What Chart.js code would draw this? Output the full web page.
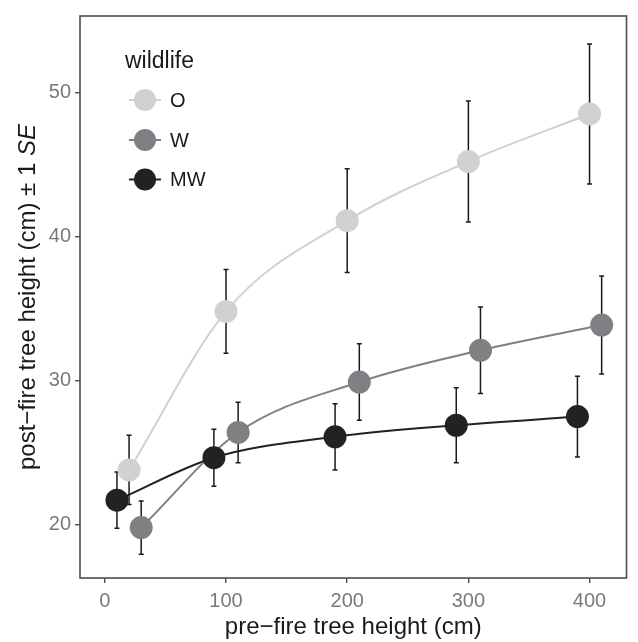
<!DOCTYPE html>
<html>
<head>
<meta charset="utf-8">
<script src="https://cdn.jsdelivr.net/npm/chart.js@4"></script>
<style>
html,body{margin:0;padding:0;background:#fff;}
#wrap{width:638px;height:642px;position:relative;}
</style>
</head>
<body>
<div id="wrap"><canvas id="c" width="638" height="642"></canvas></div>
<script>
// ---- data ----
const groups = ["O", "W", "MW"];
const xO  = [20, 100, 200, 300, 400];
const xW  = [30, 110, 210, 310, 410];
const xMW = [10, 90, 190, 290, 390];
const yO  = [23.8, 34.8, 41.1, 45.2, 48.5];
const seO = [2.4, 2.9, 3.6, 4.2, 4.85];
const yW  = [19.8, 26.4, 29.9, 32.1, 33.85];
const seW = [1.85, 2.1, 2.65, 3.0, 3.4];
const yMW = [21.7, 24.65, 26.1, 26.9, 27.5];
const seMW= [1.95, 1.98, 2.3, 2.6, 2.8];
const xTicks = [0, 100, 200, 300, 400];
const yTicks = [20, 30, 40, 50];

const colO = "#d1d1d3", colW = "#7f7f84", colMW = "#222222";
const FONT = "'Liberation Sans', Arial, Helvetica, sans-serif";

function pts(xs, ys, se){ return xs.map((x,i)=>({x:x, y:ys[i], se:se[i]})); }

const series = [
  {label:"O",  color:colO,  data:pts(xO,yO,seO)},
  {label:"W",  color:colW,  data:pts(xW,yW,seW)},
  {label:"MW", color:colMW, data:pts(xMW,yMW,seMW)}
];

const datasets = [];
series.forEach(s=>{
  datasets.push({type:'line', label:s.label+"_line", data:s.data, borderColor:s.color, borderWidth:2,
    pointRadius:0, cubicInterpolationMode:'monotone', fill:false, order:10});
});
series.forEach(s=>{
  datasets.push({type:'scatter', label:s.label, data:s.data, backgroundColor:s.color, borderColor:s.color,
    borderWidth:0, pointRadius:11.5, showLine:false, order:1});
});

const errorBars = {
  id:'errorBars',
  beforeDatasetsDraw(chart){
    const ctx = chart.ctx, xs = chart.scales.x, ys = chart.scales.y;
    ctx.save();
    ctx.strokeStyle = "#1a1a1a"; ctx.lineWidth = 1.5;
    series.forEach(s=>{
      s.data.forEach(p=>{
        const px = xs.getPixelForValue(p.x);
        const t = ys.getPixelForValue(p.y + p.se);
        const b = ys.getPixelForValue(p.y - p.se);
        ctx.beginPath();
        ctx.moveTo(px, t); ctx.lineTo(px, b);
        ctx.moveTo(px-2.5, t); ctx.lineTo(px+2.5, t);
        ctx.moveTo(px-2.5, b); ctx.lineTo(px+2.5, b);
        ctx.stroke();
      });
    });
    ctx.restore();
  }
};

const decor = {
  id:'decor',
  afterDraw(chart){
    const ctx = chart.ctx, a = chart.chartArea;
    ctx.save();
    // panel box
    ctx.strokeStyle = "#4d4d4d"; ctx.lineWidth = 1.6;
    ctx.strokeRect(a.left, a.top, a.right - a.left, a.bottom - a.top);
    // x title
    ctx.fillStyle = "#1a1a1a";
    ctx.font = "24px " + FONT;
    ctx.textAlign = "center"; ctx.textBaseline = "middle";
    ctx.fillText("pre\u2212fire tree height (cm)", (a.left + a.right)/2, 627);
    // y title with italic SE
    ctx.translate(28, (a.top + a.bottom)/2);
    ctx.rotate(-Math.PI/2);
    const p1 = "post\u2212fire tree height (cm) \u00b1 1 ";
    const p2 = "SE";
    ctx.font = "24px " + FONT;
    const w1 = ctx.measureText(p1).width;
    ctx.font = "italic 24px " + FONT;
    const w2 = ctx.measureText(p2).width;
    let x0 = -(w1 + w2)/2;
    ctx.textAlign = "left";
    ctx.font = "24px " + FONT;
    ctx.fillText(p1, x0, 0);
    ctx.font = "italic 24px " + FONT;
    ctx.fillText(p2, x0 + w1, 0);
    ctx.restore();

    // legend
    ctx.save();
    ctx.fillStyle = "#1a1a1a";
    ctx.font = "23px " + FONT;
    ctx.textAlign = "left"; ctx.textBaseline = "middle";
    ctx.fillText("wildlife", 125, 62);
    const ly = [100, 140, 179.5];
    series.forEach((s,i)=>{
      ctx.strokeStyle = s.color; ctx.lineWidth = 2;
      ctx.beginPath(); ctx.moveTo(129, ly[i]); ctx.lineTo(161, ly[i]); ctx.stroke();
      ctx.fillStyle = s.color;
      ctx.beginPath(); ctx.arc(145, ly[i], 11, 0, Math.PI*2); ctx.fill();
      ctx.fillStyle = "#1a1a1a";
      ctx.font = "20px " + FONT;
      ctx.fillText(s.label, 170, ly[i] + 1);
    });
    ctx.restore();
  }
};

new Chart(document.getElementById('c'), {
  data:{datasets:datasets},
  options:{
    responsive:false, animation:false,
    layout:{padding:{left:0, right:8, top:12, bottom:0}},
    plugins:{legend:{display:false}, tooltip:{enabled:false}},
    scales:{
      x:{type:'linear', min:-20.5, max:430.5,
        afterBuildTicks(s){ s.ticks = xTicks.map(v=>({value:v})); },
        afterFit(s){ s.height = 64; },
        border:{display:false},
        grid:{display:true, drawOnChartArea:false, drawTicks:true, tickLength:5, color:"#4d4d4d", lineWidth:1.4},
        ticks:{color:"#7a7a7a", font:{family:FONT, size:20}, padding:6, maxRotation:0}
      },
      y:{type:'linear', min:16.3, max:55.3,
        afterBuildTicks(s){ s.ticks = yTicks.map(v=>({value:v})); },
        afterFit(s){ s.width = 80; },
        border:{display:false},
        grid:{display:true, drawOnChartArea:false, drawTicks:true, tickLength:5, color:"#4d4d4d", lineWidth:1.4},
        ticks:{color:"#7a7a7a", font:{family:FONT, size:20}, padding:4}
      }
    }
  },
  plugins:[errorBars, decor]
});
</script>
</body>
</html>
